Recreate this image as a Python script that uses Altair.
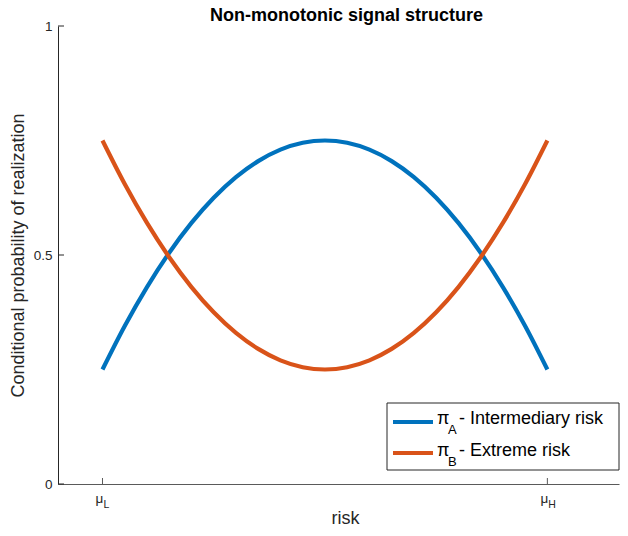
import altair as alt
import pandas as pd

# ---- data ----
risk = [0.00, 0.05, 0.10, 0.15, 0.20, 0.25, 0.30, 0.35, 0.40, 0.45, 0.50,
        0.55, 0.60, 0.65, 0.70, 0.75, 0.80, 0.85, 0.90, 0.95, 1.00]
pi_A = [0.250, 0.345, 0.430, 0.505, 0.570, 0.625, 0.670, 0.705, 0.730, 0.745, 0.750,
        0.745, 0.730, 0.705, 0.670, 0.625, 0.570, 0.505, 0.430, 0.345, 0.250]
pi_B = [0.750, 0.655, 0.570, 0.495, 0.430, 0.375, 0.330, 0.295, 0.270, 0.255, 0.250,
        0.255, 0.270, 0.295, 0.330, 0.375, 0.430, 0.495, 0.570, 0.655, 0.750]
series_names = ["A", "B"]
legend_texts = [" - Intermediary risk", " - Extreme risk"]
x_tick_pos = [0.0, 1.0]
x_tick_sub = ["L", "H"]
y_ticks = [0, 0.5, 1]

BLUE = "#0072BD"
ORANGE = "#D95319"
COLORS = [BLUE, ORANGE]
AX = "#262626"
FONT = "Liberation Sans"

W, H = 561, 458
XDOM = [-0.1, 1.161]
OX, OY = 58, 26  # plot origin in page pixels (for decoration placement)

rows = []
for s, vals in zip(series_names, [pi_A, pi_B]):
    for r, v in zip(risk, vals):
        rows.append({"risk": r, "p": v, "series": s})
df = pd.DataFrame(rows)

xs = alt.Scale(domain=XDOM, nice=False, zero=False)
ys = alt.Scale(domain=[0, 1], nice=False)

xaxis = alt.Axis(values=x_tick_pos, labels=False, ticks=False, grid=False,
                 domainColor="#5a5a5a", title="risk", titleFont=FONT,
                 titleFontSize=18, titleFontWeight="normal", titleColor=AX,
                 titleX=287, titleY=39, titleBaseline="alphabetic", titleAlign="center")
yaxis = alt.Axis(values=y_ticks, ticks=False, grid=False, domainColor=AX,
                 labelFont=FONT, labelFontSize=13.5, labelColor=AX, labelPadding=6,
                 labelExpr="datum.value == 0 ? '0' : datum.value == 1 ? '1' : '0.5'",
                 title="Conditional probability of realization", titleFont=FONT,
                 titleFontSize=18, titleFontWeight="normal", titleColor=AX,
                 titleX=-40, titleY=229, titleAngle=-90, titleBaseline="middle",
                 titleAlign="center")

base = alt.Chart(df)

lineA = base.transform_filter("datum.series == 'A'").mark_line(
    strokeWidth=4.2, color=BLUE, interpolate="monotone").encode(
    x=alt.X("risk:Q", scale=xs, axis=xaxis),
    y=alt.Y("p:Q", scale=ys, axis=yaxis),
)
lineB = base.transform_filter("datum.series == 'B'").mark_line(
    strokeWidth=4.2, color=ORANGE, interpolate="monotone").encode(
    x=alt.X("risk:Q", scale=xs),
    y=alt.Y("p:Q", scale=ys),
)

# inward ticks (MATLAB style)
ytick_df = pd.DataFrame({"v": y_ticks})
yticks = alt.Chart(ytick_df).mark_rule(color=AX, strokeWidth=1).encode(
    y=alt.Y("v:Q", scale=ys), x=alt.value(0), x2=alt.value(6))
xtick_df = pd.DataFrame({"v": x_tick_pos, "sub": x_tick_sub, "mu": ["μ", "μ"]})
xticks = alt.Chart(xtick_df).mark_rule(color="#5a5a5a", strokeWidth=1).encode(
    x=alt.X("v:Q", scale=xs), y=alt.value(H), y2=alt.value(H - 6))
xmu = alt.Chart(xtick_df).mark_text(font=FONT, fontSize=13.5, color=AX,
                                    align="center", baseline="alphabetic", dx=-3).encode(
    x=alt.X("v:Q", scale=xs), y=alt.value(H + 19), text="mu:N")
xsub = alt.Chart(xtick_df).mark_text(font=FONT, fontSize=10.5, color=AX,
                                     align="left", baseline="alphabetic", dx=1).encode(
    x=alt.X("v:Q", scale=xs), y=alt.value(H + 24), text="sub:N")

# custom legend with subscripts
one = pd.DataFrame({"a": [0]})
SH = -3  # small shift so the box fits in the window
box = alt.Chart(one).mark_rect(fill="white", stroke=AX, strokeWidth=1).encode(
    x=alt.value(390 + SH - OX), x2=alt.value(622 + SH - OX),
    y=alt.value(403 - OY), y2=alt.value(470 - OY))
legend_layers = [box]
row_line_y = [422, 453]
row_base_y = [424, 456]
for i, (s, t) in enumerate(zip(series_names, legend_texts)):
    legend_layers.append(alt.Chart(one).mark_rule(strokeWidth=4.2, color=COLORS[i]).encode(
        x=alt.value(396 + SH - OX), x2=alt.value(436 + SH - OX),
        y=alt.value(row_line_y[i] - OY)))
    legend_layers.append(alt.Chart(one).mark_text(
        font=FONT, fontSize=18, color="black", align="left", baseline="alphabetic",
        text="π").encode(x=alt.value(440 + SH - OX), y=alt.value(row_base_y[i] - OY)))
    legend_layers.append(alt.Chart(one).mark_text(
        font=FONT, fontSize=13, color="black", align="left", baseline="alphabetic",
        text=s).encode(x=alt.value(451 + SH - OX), y=alt.value(row_base_y[i] + 10 - OY)))
    legend_layers.append(alt.Chart(one).mark_text(
        font=FONT, fontSize=18, color="black", align="left", baseline="alphabetic",
        text=t).encode(x=alt.value(462 + SH - OX), y=alt.value(row_base_y[i] - OY)))

chart = alt.layer(lineA, lineB, yticks, xticks, xmu, xsub, *legend_layers).properties(
    width=W, height=H,
    title=alt.TitleParams("Non-monotonic signal structure", font=FONT, fontSize=18,
                          fontWeight="bold", color="black", anchor="middle",
                          offset=3, dx=8, dy=9),
    autosize=alt.AutoSizeParams(type="none"),
    padding={"left": 50, "top": 18, "right": 1, "bottom": 44},
    background="white",
).configure_view(strokeWidth=0, stroke=None)

chart.save("out.html", embed_options={"renderer": "svg", "actions": False})
